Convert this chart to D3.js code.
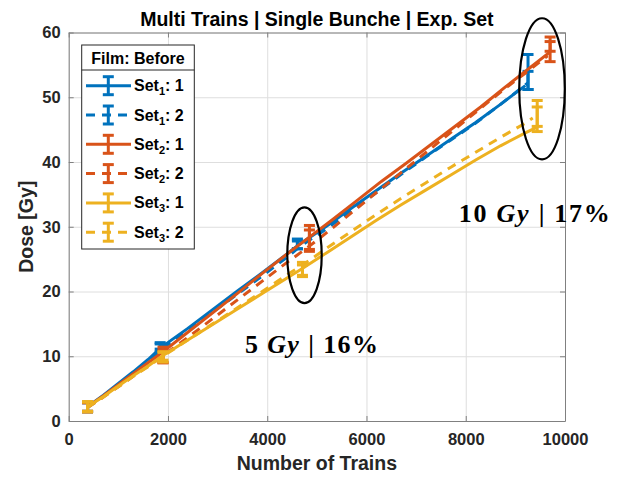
<!DOCTYPE html>
<html>
<head>
<meta charset="utf-8">
<script src="https://cdn.jsdelivr.net/npm/d3@7"></script>
<style>
    body { margin: 0; background: #fff; }
    svg text { font-family: "Liberation Sans", Arial, Helvetica, sans-serif; }
</style>
</head>
<body>
<div id="chart"></div>
<script>
// ticks
const xTicks = [0, 2000, 4000, 6000, 8000, 10000];
const yTicks = [0, 10, 20, 30, 40, 50, 60];

// [trains, dose]
const set1_1 = [[380, 2.2], [700, 4.0], [1000, 5.8], [1300, 7.6], [1600, 9.5], [1850, 11.3], [2400, 14.3], [2900, 17.2], [3400, 20.1], [3900, 22.9], [4400, 25.8], [4650, 27.3], [5200, 30.1], [5700, 32.9], [6200, 35.6], [6700, 38.3], [7200, 40.9], [7700, 43.5], [8200, 46.1], [8700, 48.9], [9200, 51.8]];
const set1_2 = [[380, 2.1], [700, 3.8], [1000, 5.6], [1300, 7.4], [1600, 9.2], [1850, 11.0], [2400, 13.9], [2900, 16.8], [3400, 19.6], [3900, 22.4], [4400, 25.3], [4650, 26.9], [5200, 29.7], [5700, 32.5], [6200, 35.3], [6700, 38.1], [7200, 40.8], [7700, 43.4], [8200, 46.0], [8700, 48.9], [9250, 52.2]];
const set2_1 = [[380, 2.2], [700, 3.9], [1000, 5.6], [1300, 7.3], [1600, 9.0], [1900, 10.7], [2400, 13.7], [2900, 16.7], [3400, 19.7], [3900, 22.8], [4400, 25.8], [4850, 28.4], [5300, 31.0], [5800, 34.0], [6300, 37.0], [6800, 39.8], [7300, 42.7], [7800, 45.6], [8300, 48.5], [8800, 51.6], [9300, 54.6], [9700, 57.0]];
const set2_2 = [[380, 2.1], [700, 3.7], [1000, 5.3], [1300, 6.9], [1600, 8.5], [1900, 10.1], [2400, 12.9], [2900, 15.8], [3400, 18.7], [3900, 21.6], [4400, 24.5], [4850, 27.0], [5300, 29.7], [5800, 32.8], [6300, 35.9], [6800, 39.0], [7300, 42.1], [7800, 45.2], [8300, 48.3], [8800, 51.4], [9300, 54.3], [9650, 56.4]];
const set3_1 = [[380, 2.2], [700, 3.8], [1000, 5.4], [1300, 7.0], [1600, 8.5], [1900, 10.1], [2400, 12.5], [2900, 14.9], [3400, 17.3], [3900, 19.7], [4400, 22.1], [4700, 23.5], [5200, 26.0], [5700, 28.5], [6200, 31.0], [6700, 33.4], [7200, 35.7], [7700, 38.0], [8200, 40.3], [8700, 42.5], [9200, 44.5], [9440, 45.4]];
const set3_2 = [[380, 2.1], [700, 3.7], [1000, 5.3], [1300, 6.9], [1600, 8.4], [1900, 10.0], [2400, 12.5], [2900, 15.0], [3400, 17.5], [3900, 20.0], [4400, 22.6], [4700, 24.0], [5200, 26.7], [5700, 29.3], [6200, 31.9], [6700, 34.4], [7200, 36.8], [7700, 39.2], [8200, 41.5], [8700, 43.8], [9200, 46.0], [9350, 46.8]];

// error bars [trains, dose, +/-]
const err1_1 = [[380, 2.2, 0.7], [1843, 11.6, 0.5], [4608, 27.35, 0.75], [9255, 53.9, 2.7]];
const err1_2 = [[380, 2.1, 0.7], [1843, 11.3, 0.6], [4608, 27.2, 0.6], [9255, 52.6, 1.4]];
const err2_1 = [[380, 2.2, 0.7], [1900, 10.2, 1.2], [4850, 28.2, 2.0], [9700, 57.4, 1.9]];
const err2_2 = [[380, 2.1, 0.7], [1900, 10.0, 1.0], [4850, 28.0, 1.5], [9700, 57.85, 0.75]];
const err3_1 = [[380, 2.2, 0.8], [1900, 9.9, 0.8], [4710, 23.4, 1.1], [9440, 47.1, 2.4]];
const err3_2 = [[380, 2.2, 0.7], [1900, 10.0, 0.6], [4710, 23.3, 0.8], [9440, 47.0, 1.5]];

const setNames = ['1', '1', '2', '2', '3', '3'];
const runNames = ['1', '2', '1', '2', '1', '2'];

const width = 628, height = 477;
const mLeft = 68.7, mRight = 565, mTop = 32.5, mBottom = 421;
const colors = ['#0072BD', '#0072BD', '#D95319', '#D95319', '#EDB120', '#EDB120'];
const dashes = [null, '9,7', null, '9,7', null, '9,7'];
const lines = [set1_1, set1_2, set2_1, set2_2, set3_1, set3_2];
const errs = [err1_1, err1_2, err2_1, err2_2, err3_1, err3_2];

const svg = d3.select('#chart').append('svg')
    .attr('width', width)
    .attr('height', height);

const x = d3.scaleLinear().domain([0, 10000]).range([mLeft, mRight]);
const y = d3.scaleLinear().domain([0, 60]).range([mBottom, mTop]);

//GRID
svg.append('g')
    .attr('transform', `translate(0,${mBottom})`)
    .call(d3.axisBottom(x).tickValues(xTicks).tickSize(-(mBottom - mTop)).tickFormat(''))
    .call(g => g.select('.domain').remove())
    .selectAll('line').attr('stroke', '#dedede');
svg.append('g')
    .attr('transform', `translate(${mLeft},0)`)
    .call(d3.axisLeft(y).tickValues(yTicks).tickSize(-(mRight - mLeft)).tickFormat(''))
    .call(g => g.select('.domain').remove())
    .selectAll('line').attr('stroke', '#dedede');

//AXES (box, ticks inside)
const axes = svg.append('g');
axes.append('g')
    .attr('transform', `translate(0,${mBottom})`)
    .call(d3.axisBottom(x).tickValues(xTicks).tickSizeInner(-5).tickSizeOuter(0).tickPadding(12).tickFormat(d3.format('d')));
axes.append('g')
    .attr('transform', `translate(${mLeft},0)`)
    .call(d3.axisLeft(y).tickValues(yTicks).tickSizeInner(-5).tickSizeOuter(0).tickPadding(8));
axes.append('g')
    .attr('transform', `translate(0,${mTop})`)
    .call(d3.axisTop(x).tickValues(xTicks).tickSizeInner(-5).tickSizeOuter(0).tickFormat(''));
axes.append('g')
    .attr('transform', `translate(${mRight},0)`)
    .call(d3.axisRight(y).tickValues(yTicks).tickSizeInner(-5).tickSizeOuter(0).tickFormat(''));

axes.selectAll('.domain, .tick line').attr('stroke', '#808080');
axes.selectAll('.tick text')
    .attr('fill', '#262626')
    .style('font-size', '16.5px')
    .style('font-weight', 'bold');

//DATA LINES + ERROR BARS
const line = d3.line().x(d => x(d[0])).y(d => y(d[1]));
const cap = 5.5;

lines.forEach((data, i) => {
    svg.append('path')
        .datum(data)
        .attr('d', line)
        .attr('fill', 'none')
        .attr('stroke', colors[i])
        .attr('stroke-width', 3)
        .attr('stroke-dasharray', dashes[i]);

    const eb = svg.append('g')
        .attr('stroke', colors[i])
        .attr('stroke-width', 3);
    errs[i].forEach(e => {
        const cx = x(e[0]);
        eb.append('line').attr('x1', cx).attr('x2', cx).attr('y1', y(e[1] - e[2])).attr('y2', y(e[1] + e[2]));
        eb.append('line').attr('x1', cx - cap).attr('x2', cx + cap).attr('y1', y(e[1] - e[2])).attr('y2', y(e[1] - e[2]));
        eb.append('line').attr('x1', cx - cap).attr('x2', cx + cap).attr('y1', y(e[1] + e[2])).attr('y2', y(e[1] + e[2]));
    });
});

//ELLIPSES
svg.append('ellipse')
    .attr('cx', x(4751)).attr('cy', y(25.6))
    .attr('rx', x(347) - x(0)).attr('ry', y(0) - y(7.38))
    .attr('fill', 'none').attr('stroke', 'black').attr('stroke-width', 2.2);
svg.append('ellipse')
    .attr('cx', x(9537)).attr('cy', y(51.3))
    .attr('rx', x(459) - x(0)).attr('ry', y(0) - y(10.9))
    .attr('fill', 'none').attr('stroke', 'black').attr('stroke-width', 2.2);

//ANNOTATIONS
function note(tx, ty, num, pct, len) {
    const t = svg.append('text')
        .attr('x', x(tx)).attr('y', y(ty))
        .attr('textLength', len)
        .attr('lengthAdjust', 'spacing')
        .style('font-family', '"Liberation Serif", "Times New Roman", serif')
        .style('font-size', '26px')
        .style('font-weight', 'bold')
        .attr('fill', 'black');
    t.append('tspan').text(num + ' ');
    t.append('tspan').style('font-style', 'italic').text('Gy');
    t.append('tspan').text(' | ' + pct + '%');
}
note(3551, 10.5, '5', '16', 133);
note(7861, 30.8, '10', '17', 151);

//TITLE + LABELS
svg.append('text')
    .attr('x', (mLeft + mRight) / 2).attr('y', 26)
    .attr('text-anchor', 'middle')
    .style('font-size', '19.5px').style('font-weight', 'bold')
    .attr('fill', 'black')
    .text('Multi Trains | Single Bunche | Exp. Set');
svg.append('text')
    .attr('x', (mLeft + mRight) / 2).attr('y', 470)
    .attr('text-anchor', 'middle')
    .style('font-size', '19.5px').style('font-weight', 'bold')
    .attr('fill', '#262626')
    .text('Number of Trains');
svg.append('text')
    .attr('transform', `translate(33,${(mTop + mBottom) / 2}) rotate(-90)`)
    .attr('text-anchor', 'middle')
    .style('font-size', '19.5px').style('font-weight', 'bold')
    .attr('fill', '#262626')
    .text('Dose [Gy]');

//LEGEND
const lg = svg.append('g');
lg.append('rect')
    .attr('x', 81.7).attr('y', 45).attr('width', 112.6).attr('height', 204)
    .attr('fill', 'white').attr('stroke', '#262626').attr('stroke-width', 1);
lg.append('line')
    .attr('x1', 81.7).attr('x2', 194.3).attr('y1', 70).attr('y2', 70)
    .attr('stroke', '#262626').attr('stroke-width', 1);
lg.append('text')
    .attr('x', 138).attr('y', 64)
    .attr('text-anchor', 'middle')
    .style('font-size', '16px').style('font-weight', 'bold')
    .attr('fill', 'black')
    .text('Film: Before');

setNames.forEach((s, i) => {
    const cy = 85.7 + i * 29.3;
    const item = lg.append('g').attr('stroke', colors[i]).attr('stroke-width', 3);
    item.append('line')
        .attr('x1', 86).attr('x2', 131).attr('y1', cy).attr('y2', cy)
        .attr('stroke-dasharray', dashes[i]);
    item.append('line').attr('x1', 108.3).attr('x2', 108.3).attr('y1', cy - 9).attr('y2', cy + 9);
    item.append('line').attr('x1', 108.3 - cap).attr('x2', 108.3 + cap).attr('y1', cy - 9).attr('y2', cy - 9);
    item.append('line').attr('x1', 108.3 - cap).attr('x2', 108.3 + cap).attr('y1', cy + 9).attr('y2', cy + 9);

    const t = lg.append('text')
        .attr('x', 134).attr('y', cy + 5.5)
        .style('font-size', '16px').style('font-weight', 'bold')
        .attr('fill', 'black');
    t.append('tspan').text('Set');
    t.append('tspan').attr('dy', 4).style('font-size', '11px').text(s);
    t.append('tspan').attr('dy', -4).text(': ' + runNames[i]);
});
</script>
</body>
</html>
